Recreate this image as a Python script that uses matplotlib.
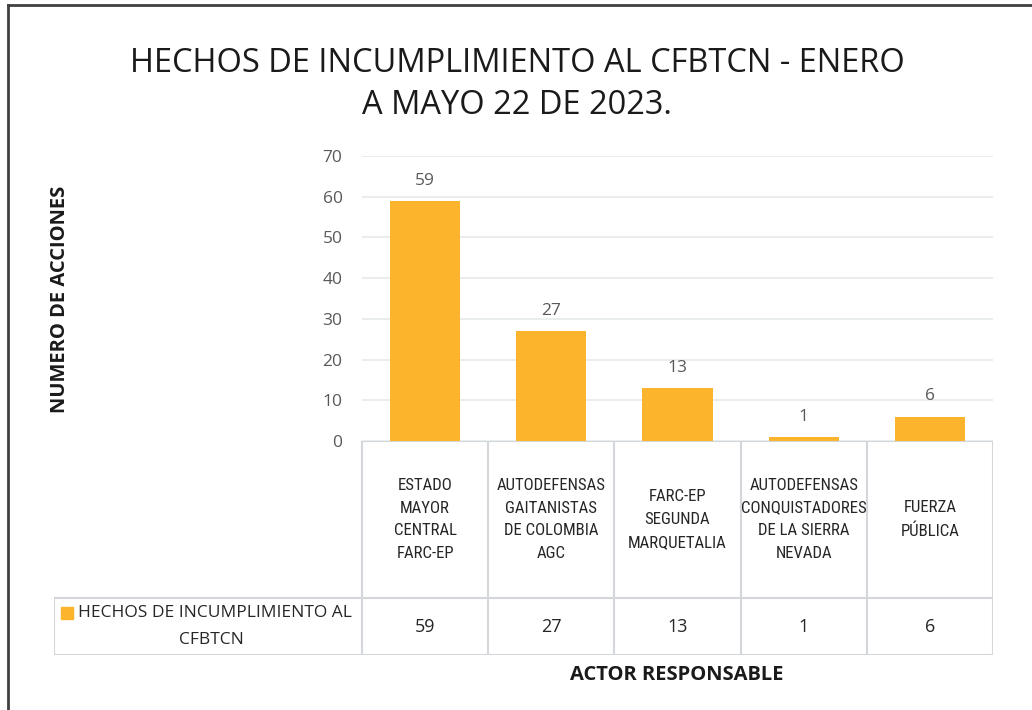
import numpy as np
import matplotlib.pyplot as plt
from matplotlib.font_manager import fontManager

# datos del grafico
actores = ["ESTADO\nMAYOR\nCENTRAL\nFARC-EP",
           "AUTODEFENSAS\nGAITANISTAS\nDE COLOMBIA\nAGC",
           "FARC-EP\nSEGUNDA\nMARQUETALIA",
           "AUTODEFENSAS\nCONQUISTADORES\nDE LA SIERRA\nNEVADA",
           "FUERZA\nPÚBLICA"]
hechos = [59, 27, 13, 1, 6]
serie = ["HECHOS DE INCUMPLIMIENTO AL", "CFBTCN"]
y_ticks = [0, 10, 20, 30, 40, 50, 60, 70]

BAR = "#FBB42B"
GRID = "#E6EAEA"
TLINE = "#D3D6DA"
GRAY = "#595959"
DARK = "#262626"

installed = {f.name for f in fontManager.ttflist}
def pick(*names):
    for n in names:
        if n in installed:
            return n
    return "DejaVu Sans"

F_MAIN = pick("Open Sans", "Noto Sans", "Liberation Sans")
F_NARROW = pick("Liberation Sans Narrow", "Roboto Condensed", "Liberation Sans")
plt.rcParams['font.family'] = [F_MAIN, 'DejaVu Sans']

W, H = 1032, 710
fig = plt.figure(figsize=(W / 100, H / 100), dpi=100)

def px(x0, y0, x1, y1):
    # pixeles (origen arriba-izquierda) -> coordenadas de figura
    return [x0 / W, 1 - y1 / H, (x1 - x0) / W, (y1 - y0) / H]

# marco del grafico
frame = fig.add_axes([0, 0, 1, 1])
frame.set_xlim(0, W)
frame.set_ylim(H, 0)
frame.axis("off")
frame.plot([8, W], [5, 5], color="#404040", lw=2)
frame.plot([8, 8], [5, H], color="#404040", lw=2)

# titulo
fig.text(517 / W, 1 - 63 / H, "HECHOS DE INCUMPLIMIENTO AL CFBTCN - ENERO",
         ha="center", va="center", fontsize=23.5, color="#1a1a1a")
fig.text(517 / W, 1 - 105 / H, "A MAYO 22 DE 2023.",
         ha="center", va="center", fontsize=23.5, color="#1a1a1a")

# barras
ax = fig.add_axes(px(362, 156, 993, 441))
x = np.arange(len(hechos))
bars = ax.bar(x, hechos, width=0.555, color=BAR, zorder=3)
ax.set_xlim(-0.5, len(hechos) - 0.5)
ax.set_ylim(0, 70)
ax.set_yticks(y_ticks)
ax.tick_params(axis="y", length=0, pad=14, labelsize=12.5, labelcolor=GRAY)
ax.set_xticks([])
ax.grid(axis="y", color=GRID, lw=1.2, zorder=0)
for s in ax.spines.values():
    s.set_visible(False)
for b, v in zip(bars, hechos):
    ax.text(b.get_x() + b.get_width() / 2, v + 3, str(v), ha="center", va="bottom",
            fontsize=12.5, color=GRAY)

fig.text(60 / W, 1 - 299 / H, "NUMERO DE ACCIONES", rotation=90,
         ha="center", va="center", fontsize=14.5, fontweight="bold", color="#1a1a1a")
fig.text(677 / W, 1 - 675 / H, "ACTOR RESPONSABLE", ha="center", va="center",
         fontsize=14.5, fontweight="bold", color="#1a1a1a")

# tabla de datos
n = len(hechos)
left_units = (362 - 54) / ((993 - 362) / n)
tb = fig.add_axes(px(54, 441, 993, 655))
tb.set_xlim(-0.5 - left_units, n - 0.5)
tb.set_ylim(0, 1)
tb.axis("off")
row = (655 - 598) / (655 - 441)
x0 = -0.5 - left_units
tb.plot([-0.5, n - 0.5], [1, 1], color=TLINE, lw=1.5)
tb.plot([x0, n - 0.5], [row, row], color=TLINE, lw=1.5)
tb.plot([x0, n - 0.5], [0, 0], color=TLINE, lw=1.5)
tb.plot([x0, x0], [0, row], color=TLINE, lw=1.5)
for i in range(n + 1):
    tb.plot([i - 0.5] * 2, [0, 1], color=TLINE, lw=1.5)
for i, (lab, v) in enumerate(zip(actores, hechos)):
    tb.text(i, row + (1 - row) * 0.5, lab, ha="center", va="center",
            fontsize=12.1, color=DARK, family=F_NARROW, linespacing=1.65)
    tb.text(i, row / 2, str(v), ha="center", va="center", fontsize=13, color=DARK)

lx = x0 + left_units / 2
tb.text(x0 + 0.19, row * 0.73, serie[0], ha="left", va="center",
        fontsize=12.5, color=DARK)
tb.text(lx + 0.03, row * 0.27, serie[1], ha="center", va="center", fontsize=12.5, color=DARK)
tb.scatter([x0 + 0.1], [row * 0.73], marker="s", s=85, color=BAR)

fig.savefig("out.png", dpi=100)
